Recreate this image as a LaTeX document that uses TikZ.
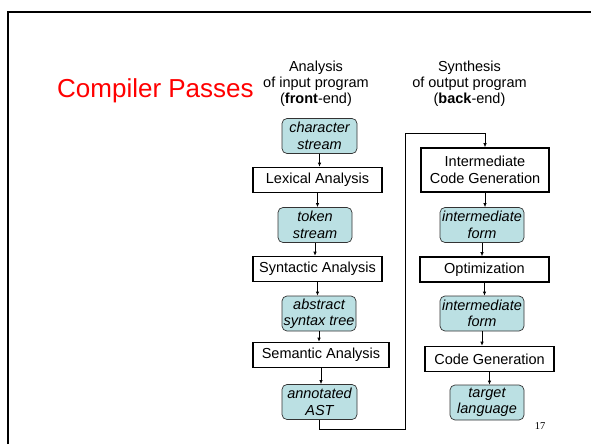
\documentclass[tikz,border=0pt]{standalone}
\usepackage{fontspec}
\setmainfont{Liberation Sans}
\newfontfamily\numfont{Liberation Serif}
\usepackage{tikz}
\usetikzlibrary{arrows.meta}
\tikzset{>={Latex[length=4pt,width=3.5pt]}}
\usepackage{xcolor}
\definecolor{streamfill}{RGB}{187,224,227}
\colorlet{titlered}{red}

\begin{document}
\begin{tikzpicture}[x=1pt, y=-1pt,
                    passo/.style={draw, line width=1.6pt, fill=white, inner sep=0pt,
                                  align=center, minimum height=25, font=\fontsize{14.5}{16.5}\selectfont},
                    dado/.style={draw=black!80, line width=0.7pt, rounded corners=5pt, fill=streamfill,
                                 inner sep=0pt, align=center, minimum height=35,
                                 font=\fontsize{14.5}{16.5}\selectfont\itshape},
                    cabec/.style={align=center, inner sep=0pt, font=\fontsize{14.5}{16}\selectfont},
                    fluxo/.style={->, line width=0.7pt}]
  \useasboundingbox (0,0) rectangle (591,444);

% moldura do slide (so as bordas de cima e da esquerda)
  \draw[line width=2pt] (8,444) -- (8,12.5) -- (591,12.5);

% titulo e cabecalhos das colunas
  \node[anchor=base west, text=titlered, inner sep=0pt, font=\fontsize{26}{30}\selectfont]
    (titulo) at (57,97) {Compiler Passes};
  \node[cabec] (analise) at (316,84) {Analysis\\of input program\\(\textbf{front}-end)};
  \node[cabec] (sintese) at (469.5,84) {Synthesis\\of output program\\(\textbf{back}-end)};

% coluna da esquerda: front-end
  \node[dado, minimum width=75]  (chr) at (319.5,136) {character\\stream};
  \node[passo, minimum width=129] (lex) at (317.5,180) {Lexical Analysis};
  \node[dado, minimum width=74]  (tok) at (315,225)   {token\\stream};
  \node[passo, minimum width=129] (syn) at (317.5,269) {Syntactic Analysis};
  \node[dado, minimum width=74]  (ast) at (319,313.5) {abstract\\syntax tree};
  \node[passo, minimum width=136] (sem) at (321,355)   {Semantic Analysis};
  \node[dado, minimum width=75]  (ann) at (319.5,402) {annotated\\AST};

% coluna da direita: back-end
  \node[passo, minimum width=128, minimum height=44] (icg) at (485,170) {Intermediate\\Code Generation};
  \node[dado, minimum width=84]  (ifa) at (482,225)   {intermediate\\form};
  \node[passo, minimum width=129] (opt) at (484.5,269.5) {Optimization};
  \node[dado, minimum width=84]  (ifb) at (482,313.5) {intermediate\\form};
  \node[passo, minimum width=129] (cog) at (489.5,359) {Code Generation};
  \node[dado, minimum width=74]  (tgt) at (487,402.5) {target\\language};

% setas entre as etapas
  \foreach \a/\b in {chr/lex, lex/tok, tok/syn, syn/ast, ast/sem, sem/ann,
                     icg/ifa, ifa/opt, opt/ifb, ifb/cog, cog/tgt}
    \draw[fluxo] (\a.south) -- (\a.south |- \b.north);

% ligacao do front-end para o back-end
  \coordinate (desvioA) at (405.5,429);
  \coordinate (desvioB) at (405.5,133);
  \draw[fluxo] (ann.south) |- (desvioA) -- (desvioB) -| (icg.north);

% numero da pagina
  \node[anchor=base, inner sep=0pt, font=\numfont\fontsize{10.5}{12}\selectfont] (pagina) at (540,429) {17};
\end{tikzpicture}
\end{document}
